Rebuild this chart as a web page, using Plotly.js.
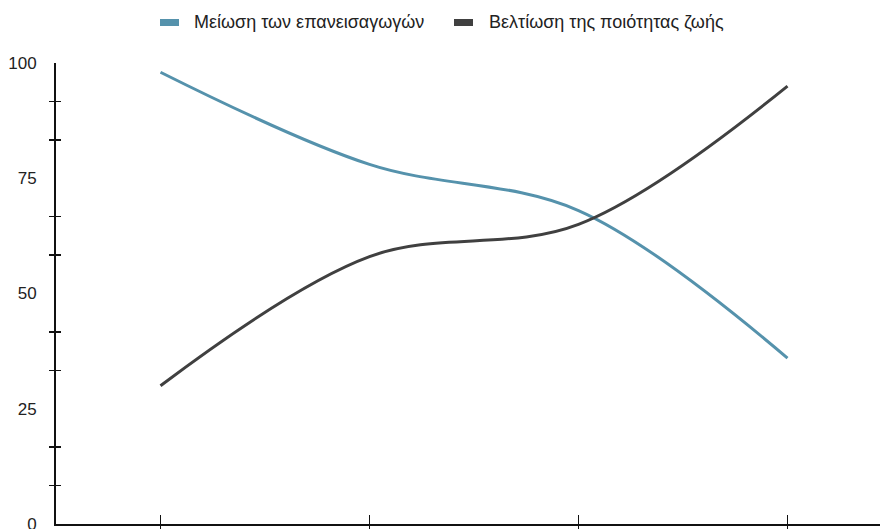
<!DOCTYPE html>
<html>
<head>
<meta charset="utf-8">
<script src="https://cdn.plot.ly/plotly-3.0.1.min.js"></script>
<style>
  html, body { margin: 0; padding: 0; overflow: hidden; background: #fff; }
  #chart { width: 900px; height: 584px; }
</style>
</head>
<body>
<div id="chart"></div>
<script>
// Four stages along the horizontal axis
const categories = ['Στάδιο 1', 'Στάδιο 2', 'Στάδιο 3', 'Στάδιο 4'];

// Series names and values (0-100 scale)
const seriesNames = ['Μείωση των επανεισαγωγών', 'Βελτίωση της ποιότητας ζωής'];
const readmissionReduction = [98, 78, 68, 36];
const qualityOfLife = [30, 58, 65, 95];

// Axis labels and the finer tick marks between them
const yTickVals = [0, 25, 50, 75, 100];
const yMinorVals = [8.333, 16.667, 33.333, 41.667, 58.333, 66.667, 83.333, 91.667];

const colors = ['#5592ac', '#404040'];
const font = 'Liberation Sans, Arial, sans-serif';

const traces = [
  {
    x: categories, y: readmissionReduction, name: seriesNames[0],
    type: 'scatter', mode: 'lines',
    line: { color: colors[0], width: 3, shape: 'spline', smoothing: 1 },
    hoverinfo: 'skip', showlegend: false
  },
  {
    x: categories, y: qualityOfLife, name: seriesNames[1],
    type: 'scatter', mode: 'lines',
    line: { color: colors[1], width: 3, shape: 'spline', smoothing: 1 },
    hoverinfo: 'skip', showlegend: false
  },
  // invisible helpers that carry the inner halves of the crossing ticks
  { x: categories, y: [null, null, null, null], xaxis: 'x2', yaxis: 'y2',
    type: 'scatter', mode: 'lines', showlegend: false, hoverinfo: 'skip' }
];

// Legend drawn as swatches + labels above the plot
const plotLeft = 56, plotWidth = 836, plotTop = 63;
const legendItems = [
  { swatchX: 160, textX: 192 },
  { swatchX: 454, textX: 487 }
];
const shapes = [];
const annotations = [];
legendItems.forEach((it, i) => {
  shapes.push({
    type: 'rect', xref: 'paper', yref: 'paper',
    xsizemode: 'pixel', ysizemode: 'pixel',
    xanchor: (it.swatchX - plotLeft) / plotWidth, yanchor: 1,
    x0: 0, x1: 19, y0: plotTop - 26, y1: plotTop - 19,
    fillcolor: colors[i], line: { width: 0 }
  });
  annotations.push({
    xref: 'paper', yref: 'paper',
    x: (it.textX - plotLeft) / plotWidth, y: 1,
    xanchor: 'left', yanchor: 'middle', yshift: plotTop - 22,
    text: seriesNames[i], showarrow: false,
    font: { family: font, size: 18, color: '#222' }
  });
});

const layout = {
  width: 900, height: 584,
  margin: { l: 56, r: 8, t: 63, b: 60 },
  paper_bgcolor: '#fff', plot_bgcolor: '#fff',
  font: { family: font, size: 17, color: '#222' },
  showlegend: false,
  xaxis: {
    type: 'category', range: [-0.5, 3.5],
    showgrid: false, zeroline: false,
    showline: true, linecolor: '#111', linewidth: 2,
    ticks: 'outside', ticklen: 6, tickwidth: 1.5, tickcolor: '#111',
    showticklabels: false
  },
  xaxis2: {
    type: 'category', range: [-0.5, 3.5], overlaying: 'x',
    showgrid: false, zeroline: false, showline: false,
    ticks: 'inside', ticklen: 9, tickwidth: 1.5, tickcolor: '#111',
    showticklabels: false
  },
  yaxis: {
    range: [0, 100], showgrid: false, zeroline: false,
    showline: true, linecolor: '#111', linewidth: 2,
    tickmode: 'array', tickvals: yTickVals, ticks: '',
    ticklabelstandoff: 14,
    tickfont: { family: font, size: 17, color: '#222' },
    minor: { tickmode: 'array', tickvals: yMinorVals, ticks: 'outside',
             ticklen: 5, tickwidth: 1.5, tickcolor: '#111', showgrid: false }
  },
  yaxis2: {
    range: [0, 100], overlaying: 'y', showgrid: false, zeroline: false,
    showline: false, showticklabels: false,
    tickmode: 'array', tickvals: yMinorVals, ticks: 'inside',
    ticklen: 5, tickwidth: 1.5, tickcolor: '#111'
  },
  shapes: shapes,
  annotations: annotations
};

Plotly.newPlot('chart', traces, layout, { displayModeBar: false, staticPlot: true });
</script>
</body>
</html>
